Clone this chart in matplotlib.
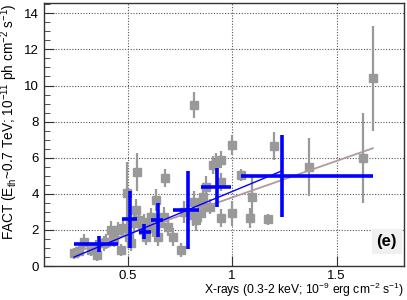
import matplotlib
matplotlib.use("Agg")
import matplotlib.pyplot as plt
import numpy as np

plt.rcParams['font.family'] = ['Liberation Sans', 'DejaVu Sans']
plt.rcParams['mathtext.fontset'] = 'custom'
plt.rcParams['mathtext.rm'] = 'Liberation Sans'
plt.rcParams['mathtext.it'] = 'Liberation Sans'

# individual (nightly) measurements
gx = [0.244, 0.268, 0.292, 0.324, 0.348, 0.356, 0.388, 0.396, 0.420, 0.428,
      0.436, 0.452, 0.468, 0.476, 0.495, 0.505, 0.516, 0.529, 0.545, 0.540,
      0.556, 0.572, 0.580, 0.596, 0.588, 0.612, 0.620, 0.636, 0.644, 0.652,
      0.681, 0.676, 0.692, 0.716, 0.756, 0.772, 0.820, 0.812, 0.820, 0.828,
      0.852, 0.860, 0.876, 0.908, 0.924, 0.948, 0.948, 0.892, 0.849, 0.948,
      0.999, 0.999, 1.044, 1.095, 1.084, 1.172, 1.199, 1.369, 1.628, 1.676]
gy = [0.70, 0.83, 1.35, 0.89, 1.07, 0.61, 1.26, 1.35, 2.00, 1.62,
      1.44, 2.00, 0.89, 2.09, 4.03, 1.62, 1.26, 2.37, 5.22, 3.10,
      2.55, 2.00, 2.37, 2.45, 1.62, 2.73, 2.09, 3.66, 1.62, 2.37,
      4.86, 2.73, 2.18, 1.62, 0.89, 3.00, 8.92, 2.83, 3.56, 2.55,
      3.38, 3.84, 4.39, 5.60, 5.69, 5.90, 4.67, 3.29, 2.92, 2.64,
      2.92, 6.70, 5.04, 3.81, 2.64, 2.59, 6.65, 5.50, 6.00, 10.40]
gerr = [0.30, 0.30, 0.40, 0.35, 0.35, 0.35, 0.40, 0.40, 0.50, 0.45,
        0.40, 0.45, 0.35, 0.50, 1.75, 0.50, 0.45, 0.50, 1.06, 0.60,
        0.50, 0.50, 0.50, 0.50, 0.45, 0.50, 0.50, 0.60, 0.50, 0.50,
        0.50, 0.55, 0.50, 0.50, 0.40, 0.60, 0.74, 0.60, 0.60, 0.60,
        0.60, 0.60, 0.60, 0.50, 0.60, 0.45, 0.50, 0.40, 0.50, 0.50,
        0.70, 0.55, 0.35, 1.20, 0.55, 0.30, 0.78, 1.61, 2.48, 2.90]

# binned averages
bx = [0.364, 0.512, 0.580, 0.644, 0.791, 0.929, 1.241]
by = [1.22, 2.60, 1.90, 2.55, 3.10, 4.36, 5.00]
bxlo = [0.120, 0.037, 0.024, 0.032, 0.072, 0.080, 0.200]
bxhi = [0.091, 0.035, 0.032, 0.024, 0.053, 0.067, 0.435]
byerr = [0.42, 1.57, 0.42, 0.94, 2.14, 1.06, 2.26]

# linear fits (slope, intercept, x-range)
fit_blue = (4.80, -0.67, 0.244, 1.236)
fit_brown = (4.05, -0.25, 0.244, 1.673)

fig = plt.figure(figsize=(4.07, 3.00), dpi=100)
ax = fig.add_axes([0.108, 0.113, 0.885, 0.877])

ax.errorbar(gx, gy, yerr=gerr, fmt='s', color='#999999', ms=5.8,
            elinewidth=1.6, capsize=0, zorder=2)

for slope, icpt, x0, x1, col, lw in [(*fit_brown, '#b09a9a', 1.3),
                                     (*fit_blue, '#0000ff', 1.0)]:
    xx = np.array([x0, x1])
    ax.plot(xx, slope * xx + icpt, color=col, lw=lw, zorder=3)

ax.errorbar(bx, by, xerr=[bxlo, bxhi], yerr=byerr, fmt='none',
            ecolor='#0000ff', elinewidth=2.6, capsize=0, zorder=4)

ax.set_xlim(0.1, 1.823)
ax.set_ylim(0, 14.57)
ax.set_xticks([0.5, 1.0, 1.5])
ax.set_xticklabels(['0.5', '1', '1.5'])
ax.set_yticks(np.arange(0, 15, 2))
ax.set_yticks(np.arange(0, 14.6, 0.5), minor=True)
ax.tick_params(axis='both', which='both', direction='in', labelsize=9.5,
               color='#333333')
ax.tick_params(axis='y', which='major', length=7)
ax.tick_params(axis='y', which='minor', length=4)
ax.tick_params(axis='x', which='major', length=7, pad=3)
ax.grid(True, which='major', linestyle=(0, (1, 1.5)), color='#555555', lw=0.8)
for s in ax.spines.values():
    s.set_color('#333333')
    s.set_linewidth(1.0)

ax.set_ylabel('FACT (E$_{\\rm th}$~0.7 TeV; 10$^{-11}$ ph cm$^{-2}$ s$^{-1}$)',
              loc='top', fontsize=9.8, labelpad=3)
ax.set_xlabel('X-rays (0.3-2 keV; 10$^{-9}$ erg cm$^{-2}$ s$^{-1}$)',
              loc='right', fontsize=8.7, labelpad=-1)

ax.text(0.952, 0.092, '(e)', transform=ax.transAxes, ha='center', va='center',
        fontsize=12, fontweight='bold',
        bbox=dict(boxstyle='square,pad=0.3', fc='#f0f0f0', ec='none'))

fig.savefig('out.png', dpi=100)
